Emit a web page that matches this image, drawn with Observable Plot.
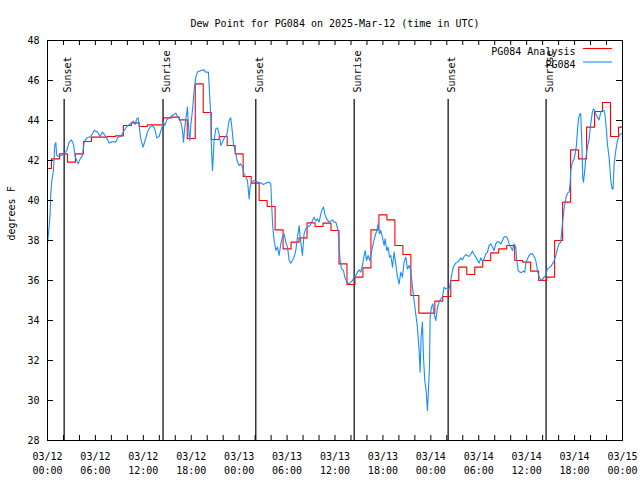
<!DOCTYPE html>
<html><head><meta charset="utf-8">
<script src="https://cdn.jsdelivr.net/npm/d3@7"></script>
<script src="https://cdn.jsdelivr.net/npm/@observablehq/plot@0.6"></script>
<style>
html,body{margin:0;padding:0;background:#fff;}
#chart svg{display:block;}
</style>
</head><body><div id="chart"></div>
<script>
const title = "Dew Point for PG084 on 2025-Mar-12 (time in UTC)";
const yLabel = "degrees F";
const seriesNames = ["PG084 Analysis", "PG084"];
const seriesColors = ["#ff0000", "#1a8cff"];
const startTime = "2025-03-12T00:00:00Z";
const endTime = "2025-03-15T00:00:00Z";
const yTicks = [28, 30, 32, 34, 36, 38, 40, 42, 44, 46, 48];
const sunLabels = ["Sunset", "Sunrise", "Sunset", "Sunrise", "Sunset", "Sunrise"];
const sunTimes = ["2025-03-12T02:05:00Z", "2025-03-12T14:28:00Z", "2025-03-13T02:05:00Z",
                  "2025-03-13T14:24:00Z", "2025-03-14T02:10:00Z", "2025-03-14T14:26:00Z"];

// Hourly analysis values (hour 0 .. 72)
const anaDewpt = [41.6,42.08,42.33,41.92,42.33,42.95,43.17,43.17,43.2,43.23,
 43.75,43.88,43.7,43.78,43.78,44.13,44.17,44.03,43.1,45.83,
 44.4,43.05,43.2,42.75,42.33,41.2,40.87,40.0,39.7,38.53,
 37.58,37.92,38.13,38.88,38.7,38.87,38.5,36.83,35.8,36.17,
 36.63,38.53,39.28,39.03,37.75,37.3,35.25,34.37,34.37,34.97,
 35.2,36.0,36.67,36.3,36.67,37.0,37.38,37.58,37.75,37.0,
 36.92,36.47,36.0,36.17,38.0,39.92,42.53,42.08,43.67,44.45,
 44.9,43.2,43.67];

// Observations: [hours since start, dew point F]
const obsPoints = [
[0.0,37.85],[0.2,38.67],[0.33,39.33],[0.41,40.33],[0.54,41.0],[0.75,41.5],[0.91,42.75],[1.04,42.9],[1.16,42.25],[1.46,42.2],
[1.75,42.25],[2.08,42.33],[2.42,42.5],[2.71,42.92],[3.0,43.03],[3.25,42.83],[3.46,42.2],[3.84,41.83],[4.09,42.08],[4.38,42.25],
[4.59,42.92],[4.92,43.13],[5.42,43.2],[5.84,43.5],[6.26,43.42],[6.59,43.2],[6.88,43.42],[7.3,43.2],[7.72,42.87],[8.13,42.95],
[8.55,42.92],[8.84,43.17],[9.18,43.2],[9.6,43.5],[9.93,43.7],[10.35,43.83],[10.76,43.97],[10.97,43.8],[11.18,44.08],[11.35,44.13],
[11.47,43.75],[11.68,43.08],[11.97,42.67],[12.22,43.0],[12.52,43.42],[12.85,43.67],[13.14,43.75],[13.43,43.58],[13.68,43.13],[13.98,43.2],
[14.27,43.58],[14.52,43.92],[14.69,43.75],[14.94,44.03],[15.23,44.13],[15.65,44.25],[16.06,44.37],[16.27,44.2],[16.48,44.08],[16.69,43.92],
[16.9,43.5],[17.03,42.92],[17.19,43.67],[17.32,44.08],[17.44,44.37],[17.52,44.67],[17.73,43.25],[17.82,43.0],[17.94,43.75],[18.15,44.5],
[18.36,45.5],[18.57,46.17],[18.78,46.42],[19.2,46.5],[19.62,46.53],[19.82,46.42],[20.15,46.42],[20.32,45.17],[20.45,44.17],[20.53,42.67],
[20.66,41.5],[20.78,42.33],[20.86,43.0],[21.07,43.58],[21.28,43.63],[21.49,43.33],[21.7,42.75],[21.91,42.92],[22.2,43.17],[22.45,43.25],
[22.74,44.0],[22.95,44.13],[23.08,43.67],[23.29,42.83],[23.58,42.33],[23.79,41.92],[24.0,41.75],[24.21,41.83],[24.41,41.67],[24.62,41.33],
[24.83,41.17],[25.04,41.0],[25.25,40.08],[25.37,40.67],[25.54,40.92],[25.88,41.0],[26.29,40.92],[26.71,40.87],[27.04,40.8],[27.33,40.87],
[27.75,40.92],[27.96,40.83],[28.08,39.67],[28.21,38.67],[28.38,38.0],[28.59,37.5],[28.79,37.67],[29.0,37.25],[29.21,37.83],[29.42,38.17],
[29.63,38.33],[29.84,37.92],[30.05,37.67],[30.26,37.0],[30.46,36.87],[30.67,37.0],[30.88,37.17],[31.09,37.5],[31.3,38.17],[31.51,38.75],
[31.63,38.17],[31.8,37.67],[31.92,37.25],[32.13,38.33],[32.34,38.58],[32.55,38.67],[32.88,38.75],[33.18,39.0],[33.39,39.17],[33.59,38.97],
[33.8,39.08],[34.01,38.92],[34.22,39.33],[34.43,39.58],[34.56,39.67],[34.72,39.33],[34.85,39.17],[35.05,39.03],[35.26,38.92],[35.47,38.97],
[35.68,39.03],[35.88,38.92],[36.1,38.92],[36.22,38.75],[36.39,38.5],[36.52,37.67],[36.64,37.0],[36.81,36.58],[37.06,36.5],[37.23,36.17],
[37.48,35.92],[37.77,35.83],[37.98,35.92],[38.19,36.0],[38.39,36.17],[38.6,36.25],[38.81,36.42],[39.02,36.53],[39.23,36.42],[39.44,36.75],
[39.65,37.25],[39.78,37.5],[39.94,37.0],[40.15,37.25],[40.36,37.0],[40.57,37.42],[40.82,37.92],[41.03,38.25],[41.23,38.5],[41.4,38.83],
[41.57,38.33],[41.73,38.5],[41.94,38.17],[42.15,37.75],[42.28,38.08],[42.48,37.5],[42.65,37.67],[42.82,37.17],[42.99,37.25],[43.2,36.67],
[43.4,37.42],[43.61,36.83],[43.82,36.17],[44.03,35.83],[44.24,36.42],[44.45,36.17],[44.65,36.92],[44.86,37.17],[45.07,36.58],[45.28,36.75],
[45.49,36.5],[45.7,35.67],[45.9,35.0],[46.11,34.33],[46.32,33.67],[46.53,32.5],[46.66,31.42],[46.78,33.17],[46.95,33.92],[47.08,32.17],
[47.24,31.0],[47.41,30.5],[47.58,29.5],[47.7,30.5],[47.83,31.67],[47.91,34.17],[48.08,34.67],[48.24,34.83],[48.41,34.33],[48.62,34.0],
[48.83,34.67],[49.04,34.92],[49.25,35.08],[49.45,35.17],[49.66,35.67],[49.87,35.58],[50.08,35.63],[50.29,35.58],[50.5,36.0],[50.71,36.5],
[50.91,36.75],[51.12,36.87],[51.33,36.92],[51.54,37.0],[51.75,37.13],[51.96,37.03],[52.17,37.2],[52.38,37.3],[52.58,37.25],[52.79,37.2],
[53.0,37.3],[53.21,37.47],[53.42,37.3],[53.63,37.17],[53.84,37.0],[54.05,36.87],[54.25,37.13],[54.46,36.97],[54.67,37.08],[54.88,37.33],
[55.09,37.42],[55.3,37.75],[55.51,37.83],[55.72,37.67],[55.92,37.5],[56.13,37.83],[56.34,37.95],[56.55,37.92],[56.76,37.83],[56.97,38.0],
[57.17,38.17],[57.38,38.2],[57.59,38.13],[57.8,37.83],[58.01,37.67],[58.22,37.5],[58.42,37.83],[58.63,37.67],[58.76,37.0],[58.93,36.5],
[59.14,36.42],[59.35,36.4],[59.6,36.47],[59.76,36.42],[59.89,36.83],[60.09,37.08],[60.3,37.25],[60.51,37.33],[60.72,37.33],[60.93,37.2],
[61.14,37.0],[61.35,36.5],[61.56,36.17],[61.77,36.03],[61.97,36.03],[62.18,36.17],[62.39,36.25],[62.6,36.58],[62.81,36.63],[63.02,36.7],
[63.23,36.83],[63.44,37.0],[63.65,37.25],[63.85,37.58],[64.06,37.83],[64.27,37.92],[64.4,38.5],[64.52,39.0],[64.69,39.6],[64.9,40.1],
[65.11,40.37],[65.32,40.42],[65.44,40.83],[65.52,41.5],[65.73,41.92],[65.94,42.08],[66.07,42.33],[66.23,42.75],[66.36,43.5],[66.49,44.08],
[66.65,44.33],[66.77,44.33],[66.9,43.0],[67.02,41.17],[67.11,40.92],[67.23,41.33],[67.4,42.08],[67.61,42.67],[67.82,43.08],[68.02,43.83],
[68.23,44.42],[68.36,44.58],[68.53,44.5],[68.65,44.33],[68.86,44.17],[69.07,44.03],[69.28,44.42],[69.49,44.53],[69.69,44.5],[69.82,44.25],
[69.99,43.5],[70.11,42.83],[70.32,42.17],[70.53,41.0],[70.7,40.58],[70.82,40.58],[70.95,41.83],[71.16,42.5],[71.37,43.0],[71.58,43.25],
[71.79,43.33],[72.0,43.37]
];

const t0 = new Date(startTime);
const t1 = new Date(endTime);
const hourToDate = h => new Date(+t0 + h * 3600e3);
const ana = anaDewpt.map((v, i) => ({t: hourToDate(i), v}));
const obs = obsPoints.map(([h, v]) => ({t: hourToDate(h), v}));
const sun = sunLabels.map((label, i) => ({t: new Date(sunTimes[i]), label}));
const xLabelTicks = d3.utcHour.every(6).range(t0, new Date(+t1 + 1));
const xMinorTicks = d3.utcHour.every(2).range(t0, new Date(+t1 + 1));
const fmt = d3.utcFormat("%m/%d\n%H:%M");

// legend swatch mark
function legendSwatches(index, scales, values, dims) {
  const g = d3.create("svg:g");
  const xr = dims.width - dims.marginRight;
  const yt = dims.marginTop;
  seriesColors.forEach((c, i) => {
    g.append("line")
      .attr("x1", xr - 39).attr("x2", xr - 10)
      .attr("y1", yt + 8.5 + i * 13.5).attr("y2", yt + 8.5 + i * 13.5)
      .attr("stroke", c).attr("stroke-width", 1.1);
  });
  return g.node();
}

const chart = Plot.plot({
  width: 640,
  height: 480,
  marginLeft: 47,
  marginRight: 18,
  marginTop: 40,
  marginBottom: 40,
  style: {fontFamily: "'DejaVu Sans Mono', monospace", fontSize: "10px", background: "#fff", color: "#000"},
  x: {type: "utc", domain: [t0, t1]},
  y: {domain: [28, 48]},
  marks: [
    Plot.ruleX(sun, {x: "t", insetTop: 59, stroke: "#000", strokeWidth: 1.2}),
    Plot.text(sun, {x: "t", text: "label", frameAnchor: "top", dy: 52, rotate: -90, textAnchor: "start", fill: "#000"}),
    Plot.line(ana, {x: "t", y: "v", curve: "step", stroke: seriesColors[0], strokeWidth: 1.1}),
    Plot.line(obs, {x: "t", y: "v", stroke: seriesColors[1], strokeWidth: 1.1}),
    Plot.tickY(yTicks, {y: d => d, insetRight: 569, stroke: "#000"}),
    Plot.tickY(yTicks, {y: d => d, insetLeft: 569, stroke: "#000"}),
    Plot.tickX(xMinorTicks, {x: d => d, insetTop: 395, stroke: "#000"}),
    Plot.tickX(xMinorTicks, {x: d => d, insetBottom: 395, stroke: "#000"}),
    Plot.axisY(yTicks, {tickSize: 0, tickPadding: 8, label: null, fontSize: 10}),
    Plot.axisX(xLabelTicks, {tickSize: 0, tickPadding: 9, tickFormat: fmt, lineHeight: 1.45, label: null, fontSize: 10}),
    Plot.frame({stroke: "#000"}),
    Plot.text([title], {frameAnchor: "top", dy: -21, fill: "#000"}),
    Plot.text([yLabel], {frameAnchor: "left", dx: -36, rotate: -90, fill: "#000"}),
    Plot.text([seriesNames[0]], {frameAnchor: "top-right", dx: -47, dy: 7, textAnchor: "end", fill: "#000"}),
    Plot.text([seriesNames[1]], {frameAnchor: "top-right", dx: -47, dy: 20.5, textAnchor: "end", fill: "#000"}),
    legendSwatches
  ]
});
document.getElementById("chart").appendChild(chart);
</script>
</body></html>
